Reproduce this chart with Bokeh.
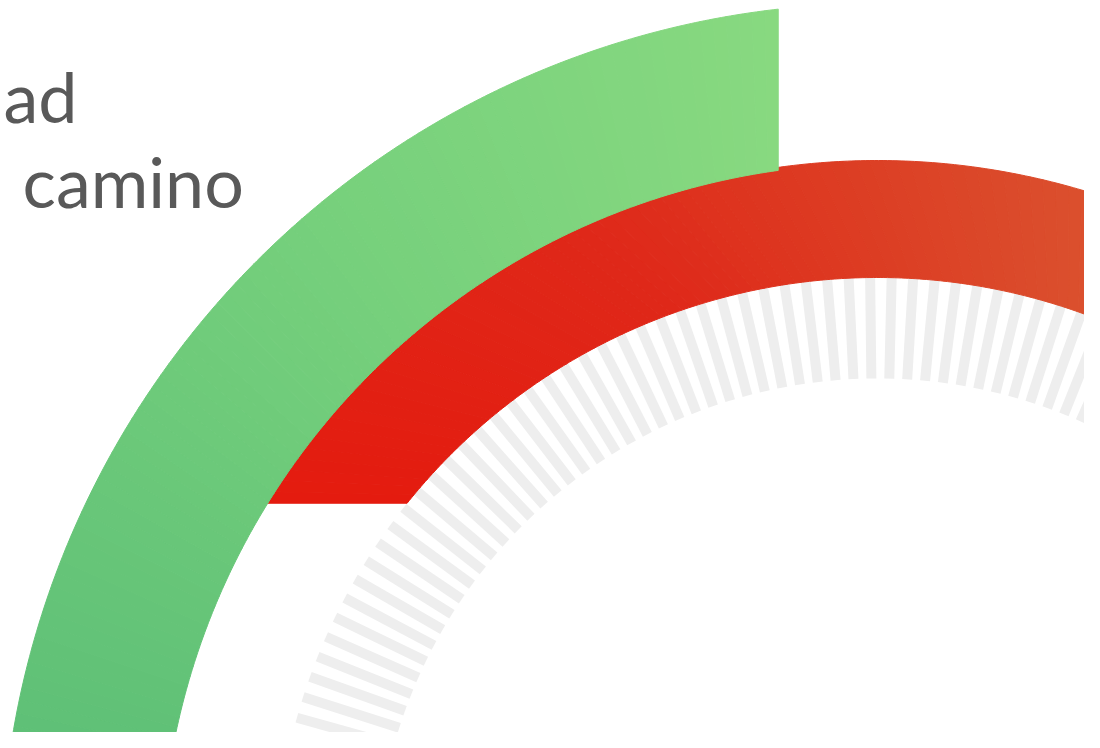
import numpy as np
from bokeh.plotting import figure
from bokeh.models import ColumnDataSource, Range1d
from bokeh.core.properties import value
from bokeh.embed import file_html
from bokeh.resources import INLINE

# ---------------- data ----------------
label_lines = ["ad", "camino"]
ring_keys = ["green", "red"]
ring_start_deg = [200.0, 148.4]   # where each arc starts (deg, math orientation)
ring_end_deg = [96.5, 20.0]       # where each arc ends
tick_count = 176                  # radial tick marks in the inner track
tick_first_deg = 90.7

# ---------------- layout / style ----------------
W, H = 1084, 732
CX, CY = 877.0, 880.0          # ring centre in reference pixel coords
OFF = 0.0
R = {"green": (717.0, 877.0), "red": (603.0, 720.0)}
TICK_R = (502.0, 603.0)
cut_kind = {"green": "vertical_end", "red": "horizontal_start"}
grad = {
    "green": [(96.0, (136, 217, 128)), (130.0, (118, 208, 124)), (175.0, (92, 190, 118)), (200.0, (88, 186, 117))],
    "red": [(148.4, (228, 27, 15)), (115.0, (223, 40, 25)), (90.0, (220, 64, 37)), (65.0, (218, 88, 50)), (20.0, (215, 100, 55))],
}


def col_at(key, a):
    stops = sorted(grad[key])
    angs = [s[0] for s in stops]
    out = []
    for c in range(3):
        out.append(int(round(np.interp(a, angs, [s[1][c] for s in stops]))))
    return "#%02x%02x%02x" % tuple(out)


def ring_polys(key, a_start, a_end, n=120, sub=4):
    r_in, r_out = R[key]
    a0o = a0i = a_start
    a1o = a1i = a_end
    if cut_kind[key] == "vertical_end":
        xc = r_out * np.cos(np.radians(a_end))
        a1i = np.degrees(np.arccos(xc / r_in))
    elif cut_kind[key] == "horizontal_start":
        yc = r_out * np.sin(np.radians(a_start))
        a0i = 180.0 - np.degrees(np.arcsin(yc / r_in))
    t = np.linspace(0, 1, n + 1)
    ao = a0o + (a1o - a0o) * t
    ai = a0i + (a1i - a0i) * t
    xs, ys, cs = [], [], []
    for k in range(n):
        oo = np.radians(np.linspace(ao[k], ao[k + 1], sub))
        ii = np.radians(np.linspace(ai[k + 1], ai[k], sub))
        px = np.concatenate([r_out * np.cos(oo), r_in * np.cos(ii)])
        py = np.concatenate([r_out * np.sin(oo), r_in * np.sin(ii)])
        xs.append(list(px))
        ys.append(list(py))
        cs.append(col_at(key, 0.5 * (ao[k] + ao[k + 1])))
    return xs, ys, cs


p = figure(width=W, height=H, output_backend="svg", toolbar_location=None,
           x_axis_location=None, y_axis_location=None, min_border=0,
           x_range=Range1d(OFF - CX, OFF + W - CX), y_range=Range1d(CY - OFF - H, CY - OFF))
p.grid.visible = False
p.outline_line_color = None
p.background_fill_color = "white"
p.border_fill_color = "white"

# ticks
ta = np.radians(tick_first_deg + np.arange(tick_count) * 360.0 / tick_count)
tsrc = ColumnDataSource(dict(x0=TICK_R[0] * np.cos(ta), y0=TICK_R[0] * np.sin(ta),
                             x1=TICK_R[1] * np.cos(ta), y1=TICK_R[1] * np.sin(ta)))
p.segment("x0", "y0", "x1", "y1", source=tsrc, line_color="#eeeeee", line_width=10, line_cap="butt")

# rings: red below, green on top
for key in ["red", "green"]:
    i = ring_keys.index(key)
    xs, ys, cs = ring_polys(key, ring_start_deg[i], ring_end_deg[i])
    src = ColumnDataSource(dict(xs=xs, ys=ys, c=cs))
    p.patches("xs", "ys", source=src, fill_color="c", line_color="c", line_width=1)

# labels
lx = [3.0 - CX, 22.0 - CX]
ly = [CY - 95.0, CY - 180.0]
p.text(x=lx, y=ly, text=label_lines, text_font=value("Lato"), text_font_size="70px",
       text_color="#595959", text_baseline="alphabetic", text_align="left")

open("out.html", "w").write(file_html(p, INLINE))
